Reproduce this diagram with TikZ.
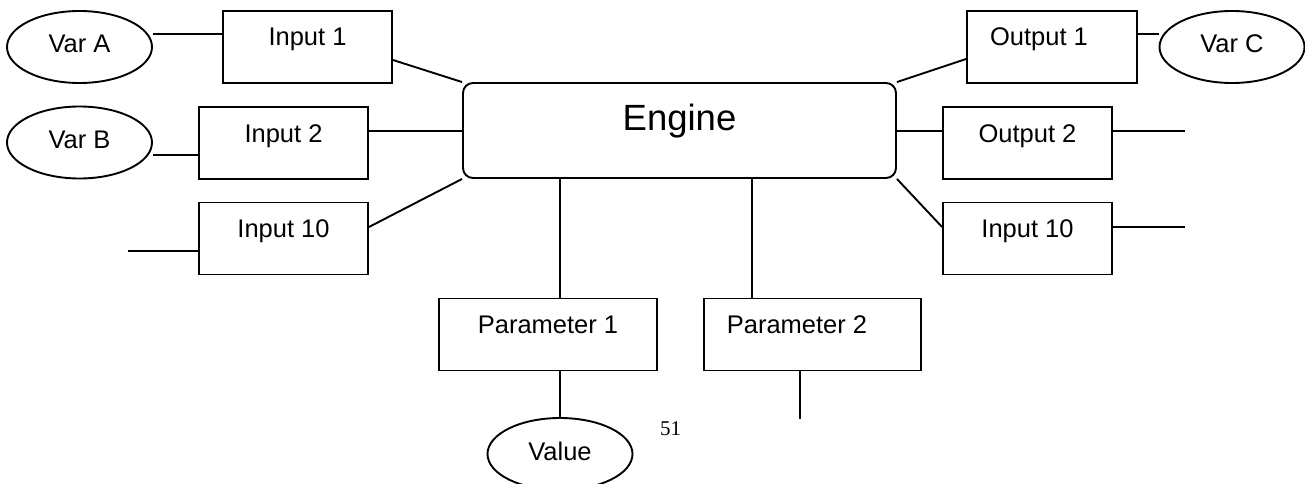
\documentclass[tikz,border=0pt]{standalone}
\usepackage{fontspec}
\setmainfont{Liberation Sans}
\newfontfamily\pagenumfont{Liberation Serif}
\usetikzlibrary{shapes.geometric}
\begin{document}
\begin{tikzpicture}[x=1pt,y=-1pt,line width=1.9pt,
  box/.style={draw, rectangle, inner sep=0pt, minimum width=#1,
    text height=35pt, text depth=37pt, font=\fontsize{25.5}{30}\selectfont},
  oval/.style={draw, ellipse, inner sep=0pt, minimum width=145pt, minimum height=72pt,
    text height=18pt, text depth=6pt, font=\fontsize{25.5}{30}\selectfont},
  core/.style={draw, rectangle, rounded corners=10pt, inner sep=0pt, minimum width=433pt,
    text height=48pt, text depth=47pt, font=\fontsize{36.5}{40}\selectfont},
  wire/.style={draw, line width=1.9pt}]
\useasboundingbox (0,0) rectangle (1305,484);
\clip (0,0) rectangle (1305,484);

% central block
\node[core] (engine) at (679.5,130.5) {Engine};

% left side: variables and inputs
\node[oval] (varA) at (79.5,47) {Var A};
\node[oval] (varB) at (79.5,142.5) {Var B};
\node[box=169pt] (in1) at (307.5,47) {Input 1};
\node[box=169pt] (in2) at (283.5,143) {Input 2};
\node[box=169pt] (in10) at (283.5,238.5) {Input 10};

% right side: outputs
\node[box=170pt] (out1) at (1052,47) {Output 1\hspace*{26pt}};
\node[oval] (varC) at (1232,47) {Var C};
\node[box=169pt] (out2) at (1027.5,143) {Output 2};
\node[box=169pt] (in10r) at (1027.5,238.5) {Input 10};

% bottom: parameters
\node[box=218pt] (p1) at (548,334.5) {Parameter 1};
\node[box=217pt] (p2) at (812.5,334.5) {Parameter 2\hspace*{31pt}};
\node[oval] (value) at (560,454) {Value};

% page number
\node[font=\pagenumfont\fontsize{21}{24}\selectfont, inner sep=0pt, anchor=base] (pnum) at (670.5,435) {51};

% free ends of the open connectors
\coordinate (in10stub) at (128,251);
\coordinate (out2stub) at (1185,131);
\coordinate (in10rstub) at (1185,227);
\coordinate (p2stub) at (800,419);
\coordinate (mid) at ([yshift=-0.5pt]engine.west);
\coordinate (midr) at ([yshift=-0.5pt]engine.east);

% connectors on the left
\draw[wire] ([yshift=13pt]in1.west) -- ([yshift=13pt]in1.west -| varA.east);
\draw[wire] ([yshift=-13pt]in1.east) -- (engine.north west);
\draw[wire] ([yshift=-12pt]in2.west) -- ([yshift=-12pt]in2.west -| varB.east);
\draw[wire] (mid -| in2.east) -- (mid);
\draw[wire] (in10stub -| in10.west) -- (in10stub);
\draw[wire] ([yshift=11.5pt]in10.east) -- (engine.south west);

% connectors on the right
\draw[wire] (engine.north east) -- ([yshift=-12pt]out1.west);
\draw[wire] ([yshift=13pt]out1.east) -- ([yshift=13pt]out1.east -| varC.west);
\draw[wire] (midr) -- (midr -| out2.west);
\draw[wire] (out2stub -| out2.east) -- (out2stub);
\draw[wire] (engine.south east) -- ([yshift=11.5pt]in10r.west);
\draw[wire] (in10rstub -| in10r.east) -- (in10rstub);

% connectors below
\draw[wire] ([xshift=12pt]p1.north) -- ([xshift=12pt]p1.north |- engine.south);
\draw[wire] ([xshift=-60.5pt]p2.north) -- ([xshift=-60.5pt]p2.north |- engine.south);
\draw[wire] (value.north) -- (value.north |- p1.south);
\draw[wire] (p2stub |- p2.south) -- (p2stub);
\end{tikzpicture}
\end{document}
